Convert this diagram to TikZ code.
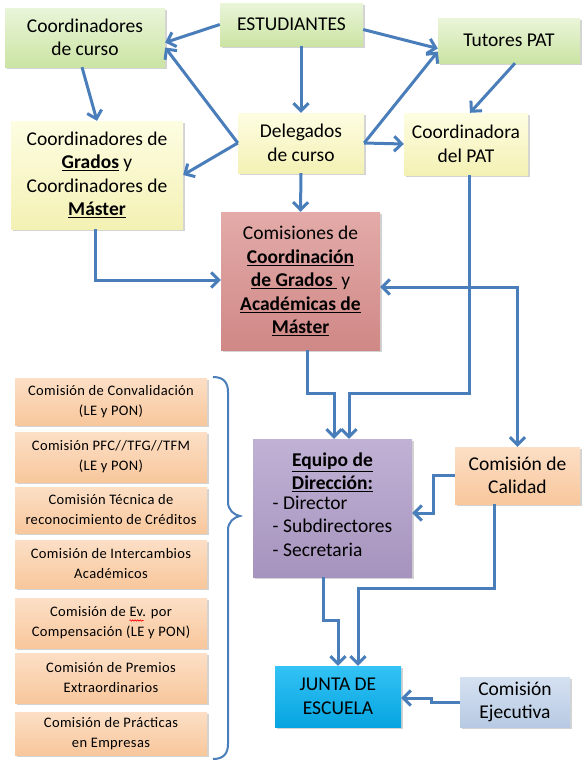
\documentclass[tikz,border=0pt]{standalone}
\usepackage{fontspec}
\setmainfont{Carlito}
\newfontfamily\listfont[LetterSpace=2.5]{Carlito}
\usetikzlibrary{arrows.meta, shadows, decorations.pathmorphing}

\definecolor{arrowblue}{HTML}{4A7EBB}
\definecolor{greentop}{HTML}{EAF5D9}
\definecolor{greenbot}{HTML}{CBE4A4}
\definecolor{yellowtop}{HTML}{FDFDE2}
\definecolor{yellowbot}{HTML}{F4F1B4}
\definecolor{peachtop}{HTML}{FCDFC6}
\definecolor{peachbot}{HTML}{F8C79C}
\definecolor{rosetop}{HTML}{E3ABA9}
\definecolor{rosebot}{HTML}{CF8886}
\definecolor{lilatop}{HTML}{C0B2D5}
\definecolor{lilabot}{HTML}{A693BE}
\definecolor{cyantop}{HTML}{33C3F5}
\definecolor{cyanbot}{HTML}{06A4E0}
\definecolor{steeltop}{HTML}{D5E1F1}
\definecolor{steelbot}{HTML}{B7CAE3}
\newcommand\mainsize{\fontsize{19.5}{23.5}\selectfont}
\newcommand\listsize{\listfont\fontsize{14.5}{20}\selectfont}

\tikzset{
  box/.style={rectangle, inner sep=1pt, align=center, font=\mainsize,
    drop shadow={opacity=0.35, shadow xshift=1.5pt, shadow yshift=-1.5pt}},
  greenbox/.style={box, top color=greentop, bottom color=greenbot},
  yellowbox/.style={box, top color=yellowtop, bottom color=yellowbot},
  peachbox/.style={box, top color=peachtop, bottom color=peachbot},
  flow/.style={draw=arrowblue, line width=3pt, -{Straight Barb[length=7.5pt,width=15pt]}},
  spellwave/.style={red, line width=0.6pt, decorate, decoration={snake, amplitude=0.7pt, segment length=2.5pt}},
}

\begin{document}
\begin{tikzpicture}[x=1pt, y=-1pt]
  \useasboundingbox (0,0) rectangle (586,764);

  % fila superior
  \node[greenbox, minimum width=143pt, minimum height=43pt] (estud) at (291.5,24.5) {ESTUDIANTES};
  \node[greenbox, minimum width=160pt, minimum height=59pt] (ccurso) at (85,37.5) {Coordinadores\\de curso};
  \node[greenbox, minimum width=142pt, minimum height=45pt] (tutores) at (509,40.5) {Tutores PAT};

  % segunda fila
  \node[yellowbox, minimum width=172pt, minimum height=108pt] (cgrados) at (97,175)
    {Coordinadores de\\\underline{\textbf{Grados}} y\\Coordinadores de\\\underline{\textbf{Máster}}};
  \node[yellowbox, minimum width=126pt, minimum height=60pt] (delegados) at (301,143) {Delegados\\de curso};
  \node[yellowbox, minimum width=124pt, minimum height=62pt] (cpat) at (466,144) {Coordinadora\\del PAT};

  % comisiones de coordinacion
  \node[box, top color=rosetop, bottom color=rosebot, minimum width=159pt, minimum height=138pt] (comisiones) at (300.5,281)
    {Comisiones de\\\underline{\textbf{Coordinación}}\\\underline{\textbf{de Grados}\hspace{4pt}} y\\\underline{\textbf{Académicas de}}\\\underline{\textbf{Máster}}};

  % equipo, calidad, junta
  \node[box, top color=lilatop, bottom color=lilabot, minimum width=159pt, minimum height=138pt] (equipo) at (332.5,508)
    {\underline{\textbf{Equipo de}}\\\underline{\textbf{Dirección:}}\\
     \begin{tabular}{@{}l@{}}- Director\\- Subdirectores\\- Secretaria\end{tabular}};
  \node[peachbox, minimum width=125pt, minimum height=57pt] (calidad) at (517.5,475.5) {Comisión de\\Calidad};
  \node[box, top color=cyantop, bottom color=cyanbot, minimum width=126pt, minimum height=61pt] (junta) at (338,696.5) {JUNTA DE\\ESCUELA};
  \node[box, top color=steeltop, bottom color=steelbot, minimum width=110pt, minimum height=50pt] (ejecutiva) at (515,702) {Comisión\\Ejecutiva};

  % comisiones de la izquierda
  \foreach \y/\h/\txt [count=\i] in {
      401.5/47/{Comisión de Convalidación\\(LE y PON)},
      457/50/{Comisión PFC//TFG//TFM\\(LE y PON)},
      510/46/{Comisión Técnica de\\reconocimiento de Créditos},
      564/48/{Comisión de Intercambios\\Académicos},
      623/50/{Comisión de Ev. por\\Compensación (LE y PON)},
      678/50/{Comisión de Premios\\Extraordinarios},
      733.5/43/{Comisión de Prácticas\\en Empresas}}
    \node[peachbox, font=\listsize, minimum width=192pt, minimum height=\h pt] (com\i) at (111,\y) {\txt};
  % subrayado ortografico bajo "Ev."
  \draw[spellwave] ([xshift=18.5pt, yshift=2.5pt]com5.center) -- ++(14,0);

  % llave
  \draw[arrowblue, line width=2pt] (213,377) .. controls (224,377) and (228,383) .. (228,392) -- (228,502)
    .. controls (228,510) and (234,515) .. (240,516) .. controls (234,517) and (228,522) .. (228,530)
    -- (228,744) .. controls (228,753) and (224,759) .. (213,759);

  % flechas superiores
  \draw[flow] (estud.west) -- ([yshift=-5pt]ccurso.east);
  \draw[flow] (delegados.west) -- ([yshift=-10pt]ccurso.east);
  \draw[flow] (delegados.west) -- (cgrados.east);
  \draw[flow] ([xshift=-3pt]ccurso.south) -- (cgrados.north);
  \draw[flow] (delegados.north |- estud.south) -- (delegados.north);
  \draw[flow] ([yshift=-5pt]estud.east) -- ([yshift=-8pt]tutores.west);
  \draw[flow] (delegados.east) -- ([yshift=-11pt]tutores.west);
  \draw[flow] (delegados.east) -- (cpat.west);
  \draw[flow] ([xshift=6pt]tutores.south) -- ([xshift=4pt]cpat.north);
  \draw[flow] (delegados.south) -- (comisiones.north);

  % flechas hacia comisiones y equipo
  \coordinate (gout) at ([xshift=-2pt]cgrados.south);
  \coordinate (pdown) at ([xshift=3pt]cpat.south);
  \coordinate (cin) at ([yshift=-6pt]comisiones.east);
  \coordinate (cdown) at ([xshift=6.5pt]comisiones.south);
  \coordinate (ein1) at ([xshift=1.5pt]equipo.north);
  \coordinate (ein2) at ([xshift=16.5pt]equipo.north);
  \coordinate (jy) at (0,393);
  \draw[flow] (gout) |- ([yshift=1pt]comisiones.west);
  \draw[flow] (pdown) -- (pdown |- jy) -| (ein2);
  \draw[flow] (pdown |- cin) -- (cin);
  \draw[flow] (pdown |- cin) -| (calidad.north);
  \draw[flow] (cdown) -- (cdown |- jy) -| (ein1);

  % flechas inferiores
  \coordinate (eout) at ([xshift=-9.5pt]equipo.south);
  \coordinate (qout) at ([xshift=-23.5pt]calidad.south);
  \coordinate (jin) at ([xshift=20pt]junta.north);
  \draw[flow] (calidad.west) -- ++(-21,0) |- ([yshift=-5pt]equipo.east);
  \draw[flow] (eout) -- ++(0,43) -| (junta.north);
  \draw[flow] (qout) -- ++(0,84) -| (jin);
  \draw[flow] (ejecutiva.west) -- ++(-28,0) |- ([yshift=-1.5pt]junta.east);
\end{tikzpicture}
\end{document}
